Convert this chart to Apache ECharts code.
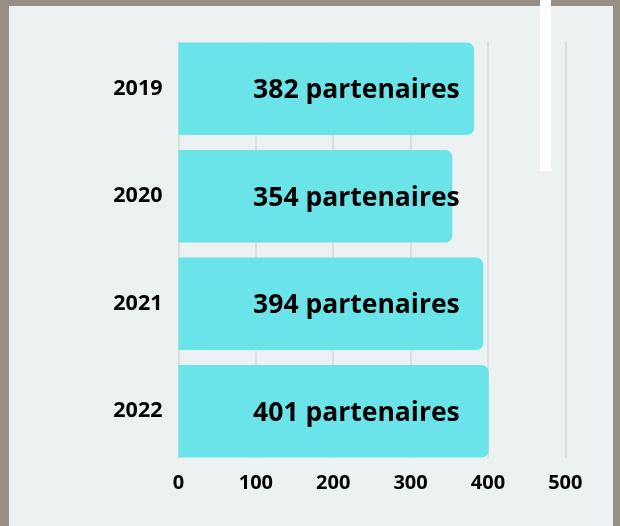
<!DOCTYPE html>
<html>
<head>
<meta charset="utf-8">
<script src="https://cdn.jsdelivr.net/npm/echarts@6/dist/echarts.min.js"></script>
<style>
  html, body { margin: 0; padding: 0; }
  body { width: 620px; height: 526px; background: #969084; position: relative; overflow: hidden; }
  #panel { position: absolute; left: 9px; top: 6px; width: 604px; height: 520px; background: #ecf1f1; }
  #stripe { position: absolute; left: 540px; top: 0; width: 11px; height: 171px; background: #ffffff; }
  #chart { position: absolute; left: 0; top: 0; width: 620px; height: 526px; }
</style>
</head>
<body>
<div id="panel"></div>
<div id="stripe"></div>
<div id="chart"></div>
<script>
// données
const years = ['2019', '2020', '2021', '2022'];
const partenaires = [382, 354, 394, 401];
const xTicks = [0, 100, 200, 300, 400, 500];

const chart = echarts.init(document.getElementById('chart'));

const font = '"Open Sans", "Noto Sans", sans-serif';
const labelX = 230; // les étiquettes sont centrées au même endroit pour chaque barre

const option = {
    backgroundColor: 'transparent',
    animation: false,
    textStyle: { fontFamily: font },
    grid: [
        { left: 178.5, right: 54.7, top: 35, bottom: 61, outerBoundsMode: 'none' },
        { left: 178.5, right: 54.7, top: 42, bottom: 68, outerBoundsMode: 'none' }
    ],
    xAxis: [
        {
            gridIndex: 0, type: 'value', min: xTicks[0], max: xTicks[xTicks.length - 1], interval: 100,
            axisLine: { show: false }, axisTick: { show: false },
            axisLabel: { show: false }, splitLine: { show: false }
        },
        {
            gridIndex: 1, type: 'value', min: xTicks[0], max: xTicks[xTicks.length - 1], interval: 100,
            axisLine: { show: false }, axisTick: { show: false },
            axisLabel: { color: '#000', fontSize: 20, fontWeight: 'bold', fontFamily: font, margin: 15 },
            splitLine: { show: true, lineStyle: { color: '#d3d8d8', width: 1.5 } }
        }
    ],
    yAxis: [
        {
            gridIndex: 0, type: 'category', data: years, inverse: true,
            axisLine: { show: false }, axisTick: { show: false },
            axisLabel: {
                color: '#000', fontSize: 21.5, fontWeight: 'bold', fontFamily: font,
                margin: 16, padding: [9, 0, 0, 0]
            }
        },
        {
            gridIndex: 1, type: 'category', data: years, inverse: true, show: false
        }
    ],
    series: [
        {
            type: 'bar',
            xAxisIndex: 0,
            yAxisIndex: 0,
            data: partenaires,
            barCategoryGap: '14%',
            itemStyle: { color: '#6ae4e8', borderRadius: [0, 7, 7, 0] },
            z: 3
        },
        {
            type: 'scatter',
            xAxisIndex: 0,
            yAxisIndex: 0,
            symbolSize: 0,
            itemStyle: { opacity: 1 },
            data: years.map((y, i) => [labelX, y, partenaires[i]]),
            label: {
                show: true,
                position: 'inside',
                offset: [0, 2],
                formatter: p => p.value[2] + ' partenaires',
                color: '#000',
                opacity: 1,
                textBorderWidth: 0,
                fontSize: 26.5,
                fontWeight: 'bold',
                fontFamily: font
            },
            z: 5
        }
    ]
};

chart.setOption(option);
</script>
</body>
</html>
